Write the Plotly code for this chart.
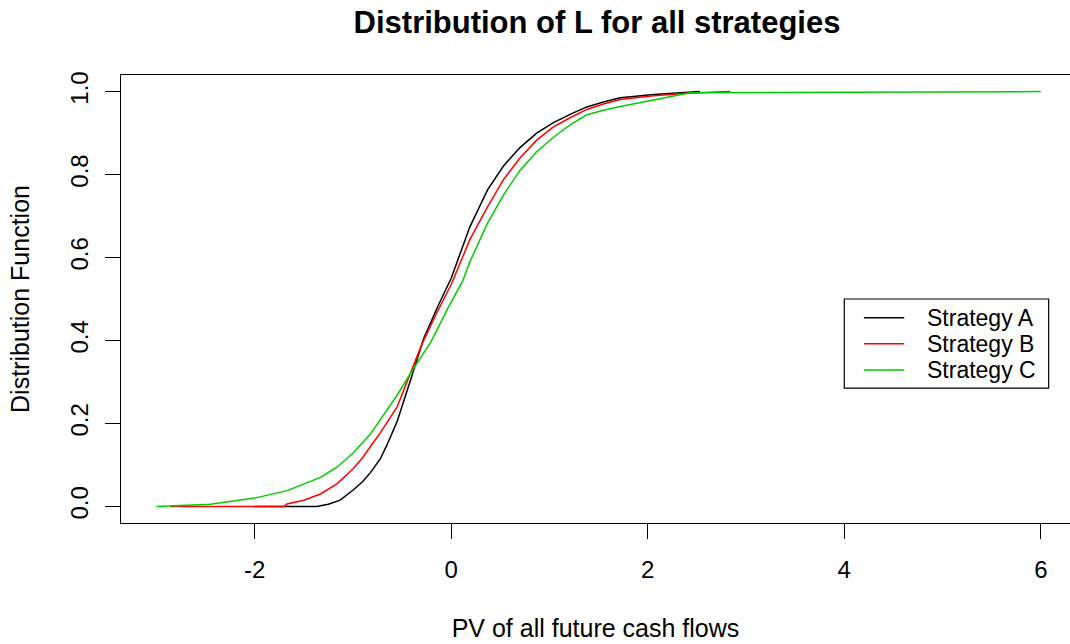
import plotly.graph_objects as go

# ---- data ----
a_x = [-2.00, -1.37, -1.25, -1.13, -1.00, -0.90, -0.82, -0.72, -0.65, -0.55, -0.42, -0.28, -0.14,
       0.00, 0.19, 0.37, 0.53, 0.70, 0.87, 1.04, 1.21, 1.38, 1.55, 1.72, 2.06, 2.30, 2.53]
a_y = [0.000, 0.000, 0.005, 0.015, 0.039, 0.060, 0.082, 0.115, 0.150, 0.205, 0.300, 0.405, 0.480,
       0.550, 0.674, 0.763, 0.820, 0.865, 0.900, 0.925, 0.945, 0.963, 0.975, 0.985, 0.993, 0.997, 1.000]

b_x = [-2.86, -1.70, -1.67, -1.50, -1.33, -1.16, -1.00, -0.90, -0.82, -0.72, -0.55, -0.45, -0.30, -0.15,
       0.00, 0.19, 0.37, 0.53, 0.70, 0.87, 1.04, 1.21, 1.38, 1.55, 1.72, 2.06, 2.40, 2.84]
b_y = [0.000, 0.000, 0.006, 0.015, 0.030, 0.055, 0.090, 0.118, 0.145, 0.178, 0.240, 0.300, 0.390, 0.465,
       0.535, 0.643, 0.722, 0.787, 0.840, 0.883, 0.915, 0.937, 0.957, 0.970, 0.981, 0.990, 0.996, 1.000]

c_x = [-3.00, -2.45, -2.00, -1.67, -1.33, -1.16, -1.00, -0.90, -0.82, -0.72, -0.55, -0.39, -0.21, -0.04,
       0.12, 0.19, 0.37, 0.53, 0.70, 0.87, 1.04, 1.21, 1.38, 1.55, 1.72, 2.06, 2.23, 2.43, 6.00]
c_y = [0.000, 0.005, 0.020, 0.038, 0.070, 0.095, 0.128, 0.155, 0.175, 0.210, 0.268, 0.330, 0.395, 0.475,
       0.545, 0.590, 0.683, 0.750, 0.810, 0.855, 0.890, 0.920, 0.944, 0.955, 0.964, 0.980, 0.988, 0.997, 1.000]

series_names = ["Strategy A", "Strategy B", "Strategy C"]
series_colors = ["#000000", "#FF0000", "#00CD00"]
x_ticks = [-2, 0, 2, 4, 6]
y_ticks = [0.0, 0.2, 0.4, 0.6, 0.8, 1.0]

FONT = "Liberation Sans, Arial, sans-serif"

fig = go.Figure()
for xs, ys, name, col in zip([a_x, b_x, c_x], [a_y, b_y, c_y], series_names, series_colors):
    fig.add_trace(go.Scatter(x=xs, y=ys, mode="lines", name=name,
                             line=dict(color=col, width=1.5), showlegend=False))

# manual R-style legend (box at data coords 4..6.08, 0.285..0.5)
leg_left, leg_right, leg_top, leg_bot = 4.0, 6.08, 0.50, 0.285
fig.add_shape(type="rect", xref="x", yref="y", x0=leg_left, x1=leg_right, y0=leg_bot, y1=leg_top,
              line=dict(color="#000000", width=1.2), fillcolor="rgba(0,0,0,0)")
leg_rows = [0.455, 0.392, 0.329]
for name, col, ly in zip(series_names, series_colors, leg_rows):
    fig.add_shape(type="line", xref="x", yref="y", x0=4.2, x1=4.61, y0=ly, y1=ly,
                  line=dict(color=col, width=1.5))
    fig.add_annotation(x=4.82, y=ly, xref="x", yref="y", text=name, showarrow=False,
                       xanchor="left", yanchor="middle", font=dict(family=FONT, size=23, color="#000"))

fig.update_layout(
    width=1070, height=644,
    margin=dict(l=121, r=0, t=75, b=121, autoexpand=False),
    paper_bgcolor="white", plot_bgcolor="white",
    font=dict(family=FONT, size=24, color="#000"),
    title=dict(text="<b>Distribution of L for all strategies</b>", x=597/1070, xanchor="center",
               y=1-22/644, yanchor="middle", xref="container", yref="container",
               font=dict(family=FONT, size=31, color="#000")),
)
fig.update_xaxes(range=[-3.36, 6.297], tickvals=x_ticks, ticktext=[str(v) for v in x_ticks],
                 ticks="outside", ticklen=15, tickwidth=1, tickcolor="#000",
                 ticklabelstandoff=10, automargin=False,
                 showline=True, linecolor="#000", linewidth=1.2, mirror=True,
                 showgrid=False, zeroline=False,
                 title=dict(text="PV of all future cash flows", standoff=37,
                            font=dict(family=FONT, size=25)))
fig.update_yaxes(range=[-0.04, 1.04], tickvals=y_ticks, tickformat=".1f", tickangle=-90,
                 ticks="outside", ticklen=15, tickwidth=1, tickcolor="#000",
                 ticklabelstandoff=7, automargin=False,
                 showline=True, linecolor="#000", linewidth=1.2, mirror=False,
                 showgrid=False, zeroline=False,
                 title=dict(text="Distribution Function", standoff=29,
                            font=dict(family=FONT, size=25)))

fig.write_html("out.html", config={"displayModeBar": False},
               post_script="document.body.style.margin='0px';document.body.style.overflow='hidden';")
